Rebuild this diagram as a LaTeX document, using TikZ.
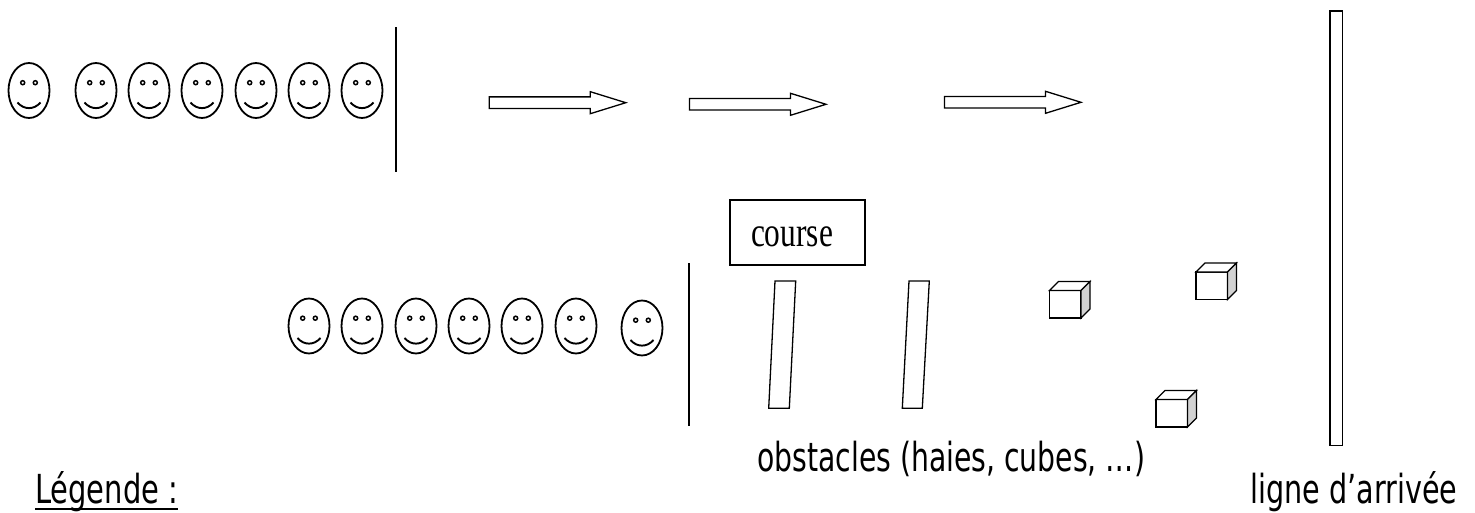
\documentclass[tikz,border=0pt]{standalone}
\usepackage{fontspec}
\setmainfont{Liberation Serif}
\newfontfamily\labelfont{DejaVu Sans}
\begin{document}
\begin{tikzpicture}[x=1pt,y=-1pt,
  smiley/.pic={
    \draw[line width=1.8pt] (0,0) ellipse [x radius=20.5pt, y radius=27.5pt];
    \draw[line width=1.5pt] (-6.3,-7.8) circle [radius=2pt];
    \draw[line width=1.5pt] (6.3,-7.8) circle [radius=2pt];
    \draw[line width=1.9pt] (-11.5,12) .. controls (-5,19.5) and (5,19.5) .. (11.5,12);
  },
  blockarrow/.pic={
    \draw[line width=1.3pt, line join=miter] (0,-5.8) -- (101,-5.8) -- (101,-11) -- (136.5,0) -- (101,11) -- (101,5.8) -- (0,5.8) -- cycle;
  },
  cube/.pic={
    \draw[line width=1.3pt, fill=white] (0,0) rectangle (31.5,27.5);
    \draw[line width=1.3pt, fill=white] (0,0) -- (9,-9) -- (40.5,-9) -- (31.5,0) -- cycle;
    \draw[line width=1.3pt, fill=gray!35] (31.5,0) -- (40.5,-9) -- (40.5,18.5) -- (31.5,27.5) -- cycle;
  },
  hurdle/.style={line width=1.3pt},
  startline/.style={line width=2pt},
  lbl/.style={inner sep=0pt, anchor=base west, font=\labelfont},
]
\useasboundingbox (0,0) rectangle (1475,513);
\fill[white] (0,0) rectangle (1475,513);

% top row of runners
\foreach \x in {29,96,149,202,256,309,362} \pic at (\x,90.5) {smiley};
\coordinate (s1t) at (395.7,27.3);
\coordinate (s1b) at (395.7,172);
\draw[startline] (s1t) -- (s1b);

% arrows
\pic at (489.3,102.7) {blockarrow};
\pic at (689.5,104.3) {blockarrow};
\pic at (944.5,102.3) {blockarrow};

% course box
\node[draw, line width=1.3pt, inner sep=0pt, minimum width=135pt, minimum height=65pt,
      text height=28.2pt, text depth=0pt] (course) at (797.5,232.5)
  {\resizebox{82pt}{\height}{\fontsize{42}{50}\selectfont course}\hspace*{11pt}};

% bottom row of runners
\foreach \x in {309,362,416,469,522,576} \pic at (\x,326) {smiley};
\pic at (642,328) {smiley};
\coordinate (s2t) at (688.5,263);
\coordinate (s2b) at (688.5,426);
\draw[startline] (s2t) -- (s2b);

% hurdles
\draw[hurdle] (775,281) -- (795.7,281) -- (789.3,408.3) -- (768.7,408.3) -- cycle;
\draw[hurdle] (909,281) -- (929.3,281) -- (922.3,408.3) -- (902.3,408.3) -- cycle;

% cubes
\pic at (1049.5,290.5) {cube};
\pic at (1196,272) {cube};
\pic at (1156,399.5) {cube};

% finish line
\draw[line width=1.3pt] (1330,11) rectangle (1342.5,445.5);

% labels
\node[lbl] (obst) at (757,471.7)
  {\resizebox{388pt}{\height}{\fontsize{40}{48}\selectfont obstacles (haies, cubes, …)}};
\node[lbl] (legende) at (35,503)
  {\resizebox{143pt}{\height}{\fontsize{40}{48}\selectfont Légende :}};
\draw[line width=1.5pt] ([yshift=-6pt]legende.base west) -- ([yshift=-6pt]legende.base east);
\node[lbl] (arrivee) at (1250,503)
  {\resizebox{207pt}{\height}{\fontsize{40}{48}\selectfont ligne d’arrivée}};
\end{tikzpicture}
\end{document}
